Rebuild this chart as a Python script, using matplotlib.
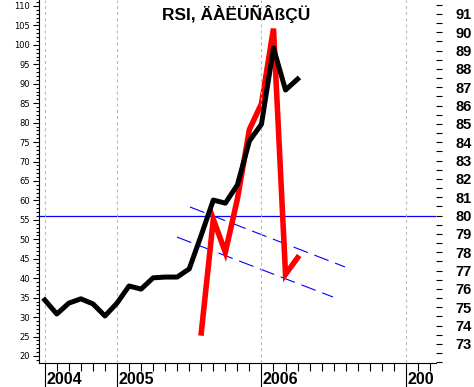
import matplotlib
matplotlib.use("Agg")
import matplotlib.pyplot as plt
from matplotlib.ticker import MultipleLocator, FixedLocator, NullFormatter

plt.rcParams["lines.scale_dashes"] = False

# months counted from Jan 2005 (0 = Jan 2005)
rsi_months = list(range(-6, 16))
rsi_values = [34.4, 30.8, 33.6, 34.7, 33.4, 30.3, 33.6, 38.0, 37.2, 40.1, 40.3,
              40.3, 42.4, 51.1, 60.1, 59.3, 64.0, 75.3, 79.6, 99.2, 88.4, 91.2]

price_months = list(range(7, 16))
price_values = [73.6, 79.8, 78.0, 80.9, 84.7, 86.1, 90.2, 76.8, 77.7]

level_line = 80.0
upper_channel_x = [6.06, 18.94]
upper_channel_y = [80.47, 77.2]
lower_channel_x = [4.98, 17.94]
lower_channel_y = [78.83, 75.56]

year_months = [-6, 0, 12, 24]
year_labels = ["2004", "2005", "2006", "200"]

title = "RSI, ÄÀËÜÑÂßÇÜ"

W, H = 474, 387
fig = plt.figure(figsize=(W / 100, H / 100), dpi=100)
ax = fig.add_axes([39 / W, (H - 363) / H, (436 - 39) / W, 363 / H])
ax2 = ax.twinx()

ax.set_xlim(-6.48, 26.5)
ax.set_ylim(18.2, 111.54)
ax2.set_ylim(71.96, 91.76)

for a in (ax, ax2):
    for s in ("top", "right"):
        a.spines[s].set_visible(False)
ax2.spines["left"].set_visible(False)
ax2.spines["bottom"].set_visible(False)

# yearly grid
for m in year_months:
    ax.axvline(m, color="#bbbbbb", lw=0.8, linestyle=(0, (2.2, 2.2)), zorder=0)

# left axis ticks
ax.set_yticks(range(20, 111, 5))
ax.yaxis.set_minor_locator(MultipleLocator(1))
ax.tick_params(axis="y", which="major", length=4.3, width=0.8, labelsize=6, pad=2)
ax.tick_params(axis="y", which="minor", length=2.5, width=0.8)

# bottom axis ticks
ax.xaxis.set_major_locator(FixedLocator(year_months))
ax.xaxis.set_minor_locator(FixedLocator(range(-6, 27)))
ax.xaxis.set_major_formatter(NullFormatter())
ax.tick_params(axis="x", which="major", length=17.5, width=0.8)
ax.tick_params(axis="x", which="minor", length=6, width=0.8)
for m, lab in zip(year_months, year_labels):
    ax.text(m + 0.12, -0.058, lab, transform=ax.get_xaxis_transform(),
            ha="left", va="baseline", fontsize=11.5, fontweight="bold",
            family="Liberation Sans", clip_on=False)

# right axis ticks
ax2.yaxis.set_major_locator(FixedLocator(range(73, 92)))
ax2.yaxis.set_minor_locator(MultipleLocator(0.5))
ax2.tick_params(axis="y", which="major", length=4, width=0.8, pad=10, labelsize=10.5)
ax2.tick_params(axis="y", which="minor", length=4, width=0.8)
for lab in ax2.get_yticklabels():
    lab.set_fontweight("bold")
    lab.set_family("Liberation Sans")

# lines
ax2.axhline(level_line, color="#0000ff", lw=0.9, zorder=2)
ax2.plot(upper_channel_x, upper_channel_y, color="#0000ff", lw=0.8,
         linestyle=(0, (11, 5)), zorder=2)
ax2.plot(lower_channel_x, lower_channel_y, color="#0000ff", lw=0.8,
         linestyle=(0, (11, 5)), zorder=2)
ax2.plot(price_months, price_values, color="#ff0000", lw=4, zorder=3,
         solid_joinstyle="miter")
ax.plot(rsi_months, rsi_values, color="black", lw=3.6, zorder=4)
ax.set_zorder(ax2.get_zorder() + 1)
ax.patch.set_visible(False)

fig.text(236 / W, 1 - 5 / H, title, ha="center", va="top", fontsize=12.5,
         fontweight="bold", family="Liberation Sans")

fig.savefig("out.png", dpi=100)
